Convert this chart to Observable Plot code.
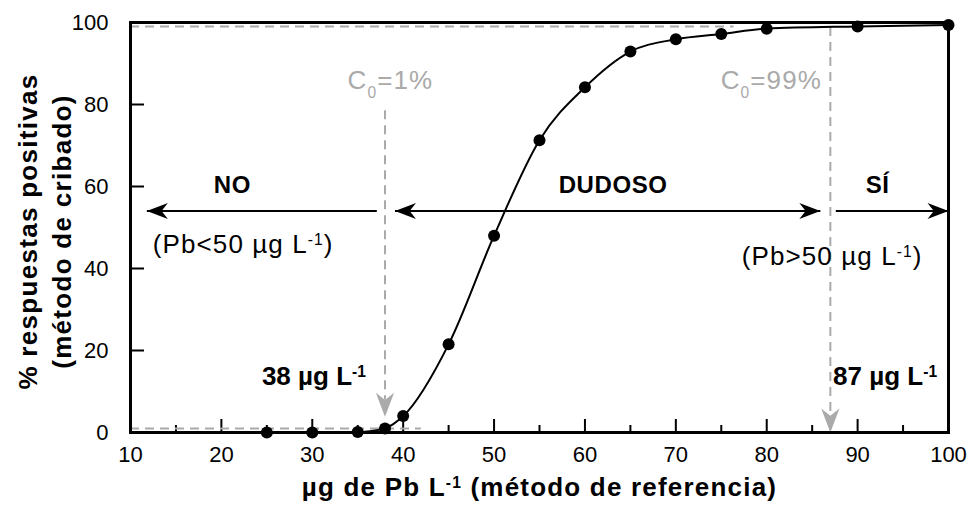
<!DOCTYPE html>
<html><head><meta charset="utf-8">
<script src="https://cdn.jsdelivr.net/npm/d3@7"></script>
<script src="https://cdn.jsdelivr.net/npm/@observablehq/plot@0.6"></script>
<style>body{margin:0;background:#fff} svg{font-family:"Liberation Sans",Arial,sans-serif}</style>
</head><body><div id="chart"></div>
<script>
// ---- data ----
const concentration = [25, 30, 35, 38, 40, 45, 50, 55, 60, 65, 70, 75, 80, 90, 100];
const positivePct   = [0, 0, 0.1, 1, 4, 21.5, 48, 71.3, 84.2, 92.9, 95.9, 97.2, 98.5, 99.05, 99.4];
const xTicks = [10, 20, 30, 40, 50, 60, 70, 80, 90, 100];
const xMinorTicks = [15, 25, 35, 45, 55, 65, 75, 85, 95];
const yTicks = [0, 20, 40, 60, 80, 100];

// reference (C0) guides
const guideLevel = [1, 99];
const guideEnd = [42, 76.4];
const cutoffX = [38, 87];
const cutoffTop = [78.5, 98.8];
const cutoffTip = [3.85, 0];

// zone arrows
const zoneY = 54;
const arrowFrom = [37.1, 39.1, 87.6];
const arrowTo = [11.8, 85.9, 100];
const leftHeads = [11.8, 39.1];
const rightHeads = [85.9, 100];

// labels
const zoneNames = ["NO", "DUDOSO", "SÍ"];
const zoneNameX = [21.2, 63.1, 92.2];
const zoneNameY = 60.4;
const rangeNotes = ["(Pb<50 µg L⁻¹)", "(Pb>50 µg L⁻¹)"];
const rangeNoteX = [22.4, 87.2];
const rangeNoteY = [45.9, 43.0];
const c0Labels = ["C₀=1%", "C₀=99%"];
const c0X = [38.6, 80.5];
const c0Y = 85.7;
const cutLabels = ["38 µg L⁻¹", "87 µg L⁻¹"];
const cutLabelX = [35.9, 87.3];
const cutLabelY = 13.6;
const xTitle = "µg de Pb L⁻¹ (método de referencia)";
const yTitle = "% respuestas positivas\n(método de cribado)";

// ---- build ----
const points = concentration.map((x, i) => ({x, y: positivePct[i]}));
const W = 970, H = 508, mL = 130, mR = 22, mT = 22, mB = 76;
const frameW = W - mL - mR, frameH = H - mT - mB;
const gray = "#aaaaaa";

const stealth = {
  draw(ctx, size) {
    const r = Math.sqrt(size / Math.PI);
    const L = 2 * r, w = 0.76 * r;
    ctx.moveTo(0, 0);
    ctx.lineTo(-w, -L);
    ctx.lineTo(0, -0.7 * L);
    ctx.lineTo(w, -L);
    ctx.closePath();
  }
};

const plot = Plot.plot({
  width: W, height: H,
  marginLeft: mL, marginRight: mR, marginTop: mT, marginBottom: mB,
  style: {fontFamily: "Liberation Sans, Arial, sans-serif", background: "#fff", color: "#000"},
  x: {domain: [10, 100]},
  y: {domain: [0, 100]},
  marks: [
    Plot.axisX({ticks: xTicks, tickSize: 0, tickPadding: 14, fontSize: 22, label: null, tickFormat: d => d}),
    Plot.axisY({ticks: yTicks, tickSize: 0, tickPadding: 22, fontSize: 22, label: null, tickFormat: d => d}),
    Plot.tickX(xTicks, {x: d => d, insetTop: frameH - 13, strokeWidth: 2}),
    Plot.tickX(xMinorTicks, {x: d => d, insetTop: frameH - 7, strokeWidth: 2}),
    Plot.tickY(yTicks, {y: d => d, insetRight: frameW - 14, strokeWidth: 2}),
    Plot.ruleY(guideLevel, {y: d => d, x1: 10, x2: (d, i) => guideEnd[i], stroke: gray, strokeWidth: 2, strokeDasharray: "9,6"}),
    Plot.ruleX(cutoffX, {x: d => d, y1: (d, i) => cutoffTop[i], y2: (d, i) => cutoffTip[i] + 4, stroke: gray, strokeWidth: 2, strokeDasharray: "9,6"}),
    Plot.dot(cutoffX, {x: d => d, y: (d, i) => cutoffTip[i], symbol: stealth, r: 12, fill: gray, stroke: "none"}),
    Plot.link(arrowFrom, {x1: d => d, x2: (d, i) => arrowTo[i], y1: zoneY, y2: zoneY, stroke: "#000", strokeWidth: 2}),
    Plot.dot(leftHeads, {x: d => d, y: zoneY, symbol: stealth, r: 10.5, rotate: 90, fill: "#000", stroke: "none"}),
    Plot.dot(rightHeads, {x: d => d, y: zoneY, symbol: stealth, r: 10.5, rotate: -90, fill: "#000", stroke: "none"}),
    Plot.line(points, {x: "x", y: "y", curve: "monotone-x", stroke: "#000", strokeWidth: 2}),
    Plot.dot(points, {x: "x", y: "y", r: 6, fill: "#000", stroke: "none"}),
    Plot.frame({stroke: "#000", strokeWidth: 3}),
    Plot.text(zoneNames, {x: (d, i) => zoneNameX[i], y: zoneNameY, text: d => d, fontSize: 24, fontWeight: "bold", fill: "#000"}),
    Plot.text(rangeNotes, {x: (d, i) => rangeNoteX[i], y: (d, i) => rangeNoteY[i], text: d => d, fontSize: 26, fill: "#000"}),
    Plot.text(c0Labels, {x: (d, i) => c0X[i], y: c0Y, text: d => d, fontSize: 26, fill: gray}),
    Plot.text(cutLabels.slice(0, 1), {x: (d, i) => cutLabelX[i], y: cutLabelY, text: d => d, fontSize: 26, fontWeight: "bold", fill: "#000", textAnchor: "end"}),
    Plot.text(cutLabels.slice(1), {x: (d, i) => cutLabelX[i + 1], y: cutLabelY, text: d => d, fontSize: 26, fontWeight: "bold", fill: "#000", textAnchor: "start"}),
    Plot.text([xTitle], {frameAnchor: "bottom", dy: 63, text: d => d, fontSize: 26, fontWeight: "bold", fill: "#000"}),
    Plot.text([yTitle], {frameAnchor: "left", textAnchor: "middle", dx: -87.5, dy: 4, rotate: -90, text: d => d, fontSize: 26, fontWeight: "bold", fill: "#000", lineHeight: 1.33})
  ]
});

// letter spacing by text group (set before splitting scripts)
const spacingFor = new Map([
  ...zoneNames.map(s => [s, 0.6]),
  ...rangeNotes.map(s => [s, 1.1]),
  ...c0Labels.map(s => [s, 1.1]),
  [xTitle, 1.2],
  ...yTitle.split("\n").map(s => [s, 1.3])
]);
plot.querySelectorAll("text, tspan").forEach(el => {
  const v = spacingFor.get(el.textContent);
  if (v != null) el.style.letterSpacing = v + "px";
});

function fixScripts(root) {
  const ns = "http://www.w3.org/2000/svg";
  const fix = (el) => {
    const s = el.textContent;
    if (!/[⁻¹₀]/.test(s)) return;
    const parts = s.split(/(⁻¹|₀)/);
    el.textContent = "";
    for (const p of parts) {
      if (!p) continue;
      if (p === "⁻¹" || p === "₀") {
        const t = document.createElementNS(ns, "tspan");
        t.setAttribute("baseline-shift", p === "₀" ? "sub" : "super");
        t.setAttribute("font-size", "60%");
        t.textContent = p === "₀" ? "0" : "-1";
        el.appendChild(t);
      } else {
        el.appendChild(document.createTextNode(p));
      }
    }
  };
  root.querySelectorAll("text").forEach(t => {
    const spans = t.querySelectorAll("tspan");
    if (spans.length) spans.forEach(fix); else fix(t);
  });
}
fixScripts(plot);
document.getElementById("chart").appendChild(plot);
</script>
</body></html>
